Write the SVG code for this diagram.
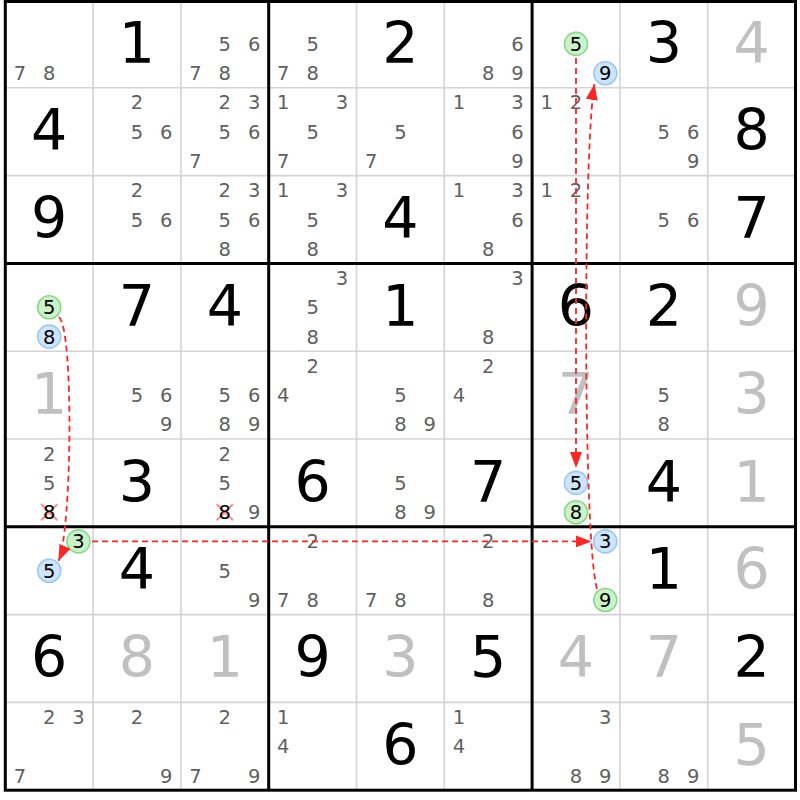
<svg xmlns="http://www.w3.org/2000/svg" width="800" height="800" viewBox="0 0 800 800">
<style>
text{font-family:"DejaVu Sans",Verdana,sans-serif;text-anchor:middle}
.g{font-size:57px;fill:#000}
.s{font-size:57px;fill:#c0c0c0}
.c{font-size:19.5px;fill:#606060}
.h{font-size:19.5px;fill:#000}
.cg{fill:#ccf2cc;stroke:#88d888;stroke-width:1.6}
.cb{fill:#cfe5ff;stroke:#98c8f8;stroke-width:1.6}
.x{stroke:#ff8a8a;stroke-width:2;fill:none}
.thin{stroke:#d4d4d4;stroke-width:1.6}
.thick{stroke:#000;stroke-width:3}
.arr{fill:none;stroke:#ff2525;stroke-width:1.8;stroke-dasharray:6 4}
</style>
<defs>
<marker id="ah" markerUnits="userSpaceOnUse" markerWidth="17" markerHeight="13" refX="16" refY="6" orient="auto">
<path d="M0,0 L16,6 L0,12 z" fill="#ff2525"/>
</marker>
</defs>
<rect x="0" y="0" width="800" height="800" fill="#fff"/>
<g id="grid">
<path class="thin" d="M93.1,0V790.2M180.9,0V790.2M356.5,0V790.2M444.3,0V790.2M619.9,0V790.2M707.7,0V790.2M5.3,87.8H795.5M5.3,175.6H795.5M5.3,351.2H795.5M5.3,439H795.5M5.3,614.6H795.5M5.3,702.4H795.5"/>
<path class="thick" d="M268.7,0V790.2M532.1,0V790.2M5.3,263.4H795.5M5.3,526.8H795.5"/>
<rect class="thick" x="5.3" y="1.5" width="790.2" height="788.7" fill="none"/>
</g>
<!-- row 1 -->
<g id="r1c1" transform="translate(5.3,0)"><text class="c" x="14.6" y="80.3">7</text><text class="c" x="43.9" y="80.3">8</text></g>
<g id="r1c2" transform="translate(93.1,0)"><text class="g" x="43.9" y="62.7">1</text></g>
<g id="r1c3" transform="translate(180.9,0)"><text class="c" x="43.9" y="51">5</text><text class="c" x="73.2" y="51">6</text><text class="c" x="14.6" y="80.3">7</text><text class="c" x="43.9" y="80.3">8</text></g>
<g id="r1c4" transform="translate(268.7,0)"><text class="c" x="43.9" y="51">5</text><text class="c" x="14.6" y="80.3">7</text><text class="c" x="43.9" y="80.3">8</text></g>
<g id="r1c5" transform="translate(356.5,0)"><text class="g" x="43.9" y="62.7">2</text></g>
<g id="r1c6" transform="translate(444.3,0)"><text class="c" x="73.2" y="51">6</text><text class="c" x="43.9" y="80.3">8</text><text class="c" x="73.2" y="80.3">9</text></g>
<g id="r1c7" transform="translate(532.1,0)"><circle class="cg" cx="43.9" cy="43.9" r="11.5"/><text class="h" x="43.9" y="51">5</text><circle class="cb" cx="73.2" cy="73.2" r="11.5"/><text class="h" x="73.2" y="80.3">9</text></g>
<g id="r1c8" transform="translate(619.9,0)"><text class="g" x="43.9" y="62.7">3</text></g>
<g id="r1c9" transform="translate(707.7,0)"><text class="s" x="43.9" y="62.7">4</text></g>
<!-- row 2 -->
<g id="r2c1" transform="translate(5.3,87.8)"><text class="g" x="43.9" y="62.7">4</text></g>
<g id="r2c2" transform="translate(93.1,87.8)"><text class="c" x="43.9" y="21.7">2</text><text class="c" x="43.9" y="51">5</text><text class="c" x="73.2" y="51">6</text></g>
<g id="r2c3" transform="translate(180.9,87.8)"><text class="c" x="43.9" y="21.7">2</text><text class="c" x="73.2" y="21.7">3</text><text class="c" x="43.9" y="51">5</text><text class="c" x="73.2" y="51">6</text><text class="c" x="14.6" y="80.3">7</text></g>
<g id="r2c4" transform="translate(268.7,87.8)"><text class="c" x="14.6" y="21.7">1</text><text class="c" x="73.2" y="21.7">3</text><text class="c" x="43.9" y="51">5</text><text class="c" x="14.6" y="80.3">7</text></g>
<g id="r2c5" transform="translate(356.5,87.8)"><text class="c" x="43.9" y="51">5</text><text class="c" x="14.6" y="80.3">7</text></g>
<g id="r2c6" transform="translate(444.3,87.8)"><text class="c" x="14.6" y="21.7">1</text><text class="c" x="73.2" y="21.7">3</text><text class="c" x="73.2" y="51">6</text><text class="c" x="73.2" y="80.3">9</text></g>
<g id="r2c7" transform="translate(532.1,87.8)"><text class="c" x="14.6" y="21.7">1</text><text class="c" x="43.9" y="21.7">2</text></g>
<g id="r2c8" transform="translate(619.9,87.8)"><text class="c" x="43.9" y="51">5</text><text class="c" x="73.2" y="51">6</text><text class="c" x="73.2" y="80.3">9</text></g>
<g id="r2c9" transform="translate(707.7,87.8)"><text class="g" x="43.9" y="62.7">8</text></g>
<!-- row 3 -->
<g id="r3c1" transform="translate(5.3,175.6)"><text class="g" x="43.9" y="62.7">9</text></g>
<g id="r3c2" transform="translate(93.1,175.6)"><text class="c" x="43.9" y="21.7">2</text><text class="c" x="43.9" y="51">5</text><text class="c" x="73.2" y="51">6</text></g>
<g id="r3c3" transform="translate(180.9,175.6)"><text class="c" x="43.9" y="21.7">2</text><text class="c" x="73.2" y="21.7">3</text><text class="c" x="43.9" y="51">5</text><text class="c" x="73.2" y="51">6</text><text class="c" x="43.9" y="80.3">8</text></g>
<g id="r3c4" transform="translate(268.7,175.6)"><text class="c" x="14.6" y="21.7">1</text><text class="c" x="73.2" y="21.7">3</text><text class="c" x="43.9" y="51">5</text><text class="c" x="43.9" y="80.3">8</text></g>
<g id="r3c5" transform="translate(356.5,175.6)"><text class="g" x="43.9" y="62.7">4</text></g>
<g id="r3c6" transform="translate(444.3,175.6)"><text class="c" x="14.6" y="21.7">1</text><text class="c" x="73.2" y="21.7">3</text><text class="c" x="73.2" y="51">6</text><text class="c" x="43.9" y="80.3">8</text></g>
<g id="r3c7" transform="translate(532.1,175.6)"><text class="c" x="14.6" y="21.7">1</text><text class="c" x="43.9" y="21.7">2</text></g>
<g id="r3c8" transform="translate(619.9,175.6)"><text class="c" x="43.9" y="51">5</text><text class="c" x="73.2" y="51">6</text></g>
<g id="r3c9" transform="translate(707.7,175.6)"><text class="g" x="43.9" y="62.7">7</text></g>
<!-- row 4 -->
<g id="r4c1" transform="translate(5.3,263.4)"><circle class="cg" cx="43.9" cy="43.9" r="11.5"/><text class="h" x="43.9" y="51">5</text><circle class="cb" cx="43.9" cy="73.2" r="11.5"/><text class="h" x="43.9" y="80.3">8</text></g>
<g id="r4c2" transform="translate(93.1,263.4)"><text class="g" x="43.9" y="62.7">7</text></g>
<g id="r4c3" transform="translate(180.9,263.4)"><text class="g" x="43.9" y="62.7">4</text></g>
<g id="r4c4" transform="translate(268.7,263.4)"><text class="c" x="73.2" y="21.7">3</text><text class="c" x="43.9" y="51">5</text><text class="c" x="43.9" y="80.3">8</text></g>
<g id="r4c5" transform="translate(356.5,263.4)"><text class="g" x="43.9" y="62.7">1</text></g>
<g id="r4c6" transform="translate(444.3,263.4)"><text class="c" x="73.2" y="21.7">3</text><text class="c" x="43.9" y="80.3">8</text></g>
<g id="r4c7" transform="translate(532.1,263.4)"><text class="g" x="43.9" y="62.7">6</text></g>
<g id="r4c8" transform="translate(619.9,263.4)"><text class="g" x="43.9" y="62.7">2</text></g>
<g id="r4c9" transform="translate(707.7,263.4)"><text class="s" x="43.9" y="62.7">9</text></g>
<!-- row 5 -->
<g id="r5c1" transform="translate(5.3,351.2)"><text class="s" x="43.9" y="62.7">1</text></g>
<g id="r5c2" transform="translate(93.1,351.2)"><text class="c" x="43.9" y="51">5</text><text class="c" x="73.2" y="51">6</text><text class="c" x="73.2" y="80.3">9</text></g>
<g id="r5c3" transform="translate(180.9,351.2)"><text class="c" x="43.9" y="51">5</text><text class="c" x="73.2" y="51">6</text><text class="c" x="43.9" y="80.3">8</text><text class="c" x="73.2" y="80.3">9</text></g>
<g id="r5c4" transform="translate(268.7,351.2)"><text class="c" x="43.9" y="21.7">2</text><text class="c" x="14.6" y="51">4</text></g>
<g id="r5c5" transform="translate(356.5,351.2)"><text class="c" x="43.9" y="51">5</text><text class="c" x="43.9" y="80.3">8</text><text class="c" x="73.2" y="80.3">9</text></g>
<g id="r5c6" transform="translate(444.3,351.2)"><text class="c" x="43.9" y="21.7">2</text><text class="c" x="14.6" y="51">4</text></g>
<g id="r5c7" transform="translate(532.1,351.2)"><text class="s" x="43.9" y="62.7">7</text></g>
<g id="r5c8" transform="translate(619.9,351.2)"><text class="c" x="43.9" y="51">5</text><text class="c" x="43.9" y="80.3">8</text></g>
<g id="r5c9" transform="translate(707.7,351.2)"><text class="s" x="43.9" y="62.7">3</text></g>
<!-- row 6 -->
<g id="r6c1" transform="translate(5.3,439)"><text class="c" x="43.9" y="21.7">2</text><text class="c" x="43.9" y="51">5</text><path class="x" d="M35.8,65.2L52,81.2M52,65.2L35.8,81.2"/><text class="h" x="43.9" y="80.3">8</text></g>
<g id="r6c2" transform="translate(93.1,439)"><text class="g" x="43.9" y="62.7">3</text></g>
<g id="r6c3" transform="translate(180.9,439)"><text class="c" x="43.9" y="21.7">2</text><text class="c" x="43.9" y="51">5</text><path class="x" d="M35.8,65.2L52,81.2M52,65.2L35.8,81.2"/><text class="h" x="43.9" y="80.3">8</text><text class="c" x="73.2" y="80.3">9</text></g>
<g id="r6c4" transform="translate(268.7,439)"><text class="g" x="43.9" y="62.7">6</text></g>
<g id="r6c5" transform="translate(356.5,439)"><text class="c" x="43.9" y="51">5</text><text class="c" x="43.9" y="80.3">8</text><text class="c" x="73.2" y="80.3">9</text></g>
<g id="r6c6" transform="translate(444.3,439)"><text class="g" x="43.9" y="62.7">7</text></g>
<g id="r6c7" transform="translate(532.1,439)"><circle class="cb" cx="43.9" cy="43.9" r="11.5"/><text class="h" x="43.9" y="51">5</text><circle class="cg" cx="43.9" cy="73.2" r="11.5"/><text class="h" x="43.9" y="80.3">8</text></g>
<g id="r6c8" transform="translate(619.9,439)"><text class="g" x="43.9" y="62.7">4</text></g>
<g id="r6c9" transform="translate(707.7,439)"><text class="s" x="43.9" y="62.7">1</text></g>
<!-- row 7 -->
<g id="r7c1" transform="translate(5.3,526.8)"><circle class="cg" cx="73.2" cy="14.6" r="11.5"/><text class="h" x="73.2" y="21.7">3</text><circle class="cb" cx="43.9" cy="43.9" r="11.5"/><text class="h" x="43.9" y="51">5</text></g>
<g id="r7c2" transform="translate(93.1,526.8)"><text class="g" x="43.9" y="62.7">4</text></g>
<g id="r7c3" transform="translate(180.9,526.8)"><text class="c" x="43.9" y="51">5</text><text class="c" x="73.2" y="80.3">9</text></g>
<g id="r7c4" transform="translate(268.7,526.8)"><text class="c" x="43.9" y="21.7">2</text><text class="c" x="14.6" y="80.3">7</text><text class="c" x="43.9" y="80.3">8</text></g>
<g id="r7c5" transform="translate(356.5,526.8)"><text class="c" x="14.6" y="80.3">7</text><text class="c" x="43.9" y="80.3">8</text></g>
<g id="r7c6" transform="translate(444.3,526.8)"><text class="c" x="43.9" y="21.7">2</text><text class="c" x="43.9" y="80.3">8</text></g>
<g id="r7c7" transform="translate(532.1,526.8)"><circle class="cb" cx="73.2" cy="14.6" r="11.5"/><text class="h" x="73.2" y="21.7">3</text><circle class="cg" cx="73.2" cy="73.2" r="11.5"/><text class="h" x="73.2" y="80.3">9</text></g>
<g id="r7c8" transform="translate(619.9,526.8)"><text class="g" x="43.9" y="62.7">1</text></g>
<g id="r7c9" transform="translate(707.7,526.8)"><text class="s" x="43.9" y="62.7">6</text></g>
<!-- row 8 -->
<g id="r8c1" transform="translate(5.3,614.6)"><text class="g" x="43.9" y="62.7">6</text></g>
<g id="r8c2" transform="translate(93.1,614.6)"><text class="s" x="43.9" y="62.7">8</text></g>
<g id="r8c3" transform="translate(180.9,614.6)"><text class="s" x="43.9" y="62.7">1</text></g>
<g id="r8c4" transform="translate(268.7,614.6)"><text class="g" x="43.9" y="62.7">9</text></g>
<g id="r8c5" transform="translate(356.5,614.6)"><text class="s" x="43.9" y="62.7">3</text></g>
<g id="r8c6" transform="translate(444.3,614.6)"><text class="g" x="43.9" y="62.7">5</text></g>
<g id="r8c7" transform="translate(532.1,614.6)"><text class="s" x="43.9" y="62.7">4</text></g>
<g id="r8c8" transform="translate(619.9,614.6)"><text class="s" x="43.9" y="62.7">7</text></g>
<g id="r8c9" transform="translate(707.7,614.6)"><text class="g" x="43.9" y="62.7">2</text></g>
<!-- row 9 -->
<g id="r9c1" transform="translate(5.3,702.4)"><text class="c" x="43.9" y="21.7">2</text><text class="c" x="73.2" y="21.7">3</text><text class="c" x="14.6" y="80.3">7</text></g>
<g id="r9c2" transform="translate(93.1,702.4)"><text class="c" x="43.9" y="21.7">2</text><text class="c" x="73.2" y="80.3">9</text></g>
<g id="r9c3" transform="translate(180.9,702.4)"><text class="c" x="43.9" y="21.7">2</text><text class="c" x="14.6" y="80.3">7</text><text class="c" x="73.2" y="80.3">9</text></g>
<g id="r9c4" transform="translate(268.7,702.4)"><text class="c" x="14.6" y="21.7">1</text><text class="c" x="14.6" y="51">4</text></g>
<g id="r9c5" transform="translate(356.5,702.4)"><text class="g" x="43.9" y="62.7">6</text></g>
<g id="r9c6" transform="translate(444.3,702.4)"><text class="c" x="14.6" y="21.7">1</text><text class="c" x="14.6" y="51">4</text></g>
<g id="r9c7" transform="translate(532.1,702.4)"><text class="c" x="73.2" y="21.7">3</text><text class="c" x="43.9" y="80.3">8</text><text class="c" x="73.2" y="80.3">9</text></g>
<g id="r9c8" transform="translate(619.9,702.4)"><text class="c" x="43.9" y="80.3">8</text><text class="c" x="73.2" y="80.3">9</text></g>
<g id="r9c9" transform="translate(707.7,702.4)"><text class="s" x="43.9" y="62.7">5</text></g>
<g id="connectors">
<path class="arr" d="M59,317 C74,330 72,530 58.5,561" marker-end="url(#ah)"/>
<path class="arr" d="M92,541.4 L591.5,541.4" marker-end="url(#ah)"/>
<path class="arr" d="M597,589 C583,540 583,150 594.5,84" marker-end="url(#ah)"/>
<path class="arr" d="M576,58 L576,468" marker-end="url(#ah)"/>
</g>
</svg>
